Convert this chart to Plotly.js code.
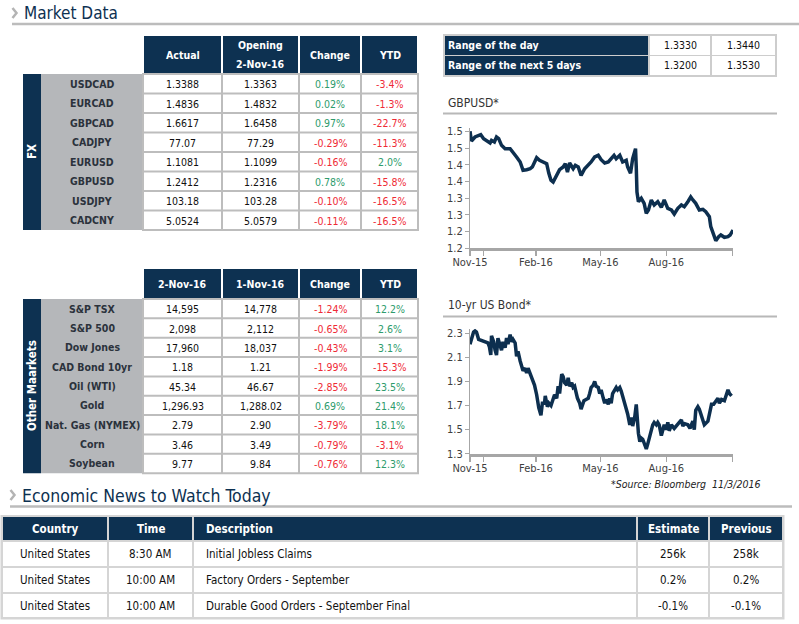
<!DOCTYPE html>
<html><head><meta charset="utf-8">
<script src="https://cdn.plot.ly/plotly-3.0.1.min.js"></script>
<style>html,body{margin:0;padding:0;background:#fff;}#chart{width:799px;height:624px;}</style>
</head><body><div id="chart"></div>
<script>
// ---------------- DATA ----------------
const fxPairs   = ['USDCAD','EURCAD','GBPCAD','CADJPY','EURUSD','GBPUSD','USDJPY','CADCNY'];
const fxActual  = ['1.3388','1.4836','1.6617','77.07','1.1081','1.2412','103.18','5.0524'];
const fxOpening = ['1.3363','1.4832','1.6458','77.29','1.1099','1.2316','103.28','5.0579'];
const fxChange  = [0.19, 0.02, 0.97, -0.29, -0.16, 0.78, -0.10, -0.11];
const fxYTD     = [-3.4, -1.3, -22.7, -11.3, 2.0, -15.8, -16.5, -16.5];
const fxHeaders = ['Actual','Opening<br>2-Nov-16','Change','YTD'];
const fxSide    = 'FX';

const mktNames   = ['S&P TSX','S&P 500','Dow Jones','CAD Bond 10yr','Oil (WTI)','Gold','Nat. Gas (NYMEX)','Corn','Soybean'];
const mktNov2    = ['14,595','2,098','17,960','1.18','45.34','1,296.93','2.79','3.46','9.77'];
const mktNov1    = ['14,778','2,112','18,037','1.21','46.67','1,288.02','2.90','3.49','9.84'];
const mktChange  = [-1.24, -0.65, -0.43, -1.99, -2.85, 0.69, -3.79, -0.79, -0.76];
const mktYTD     = [12.2, 2.6, 3.1, -15.3, 23.5, 21.4, 18.1, -3.1, 12.3];
const mktHeaders = ['2-Nov-16','1-Nov-16','Change','YTD'];
const mktSide    = 'Other Maarkets';

const rangeLabels = ['Range of the day','Range of the next 5 days'];
const rangeLow    = ['1.3330','1.3200'];
const rangeHigh   = ['1.3440','1.3530'];

const newsHeaders  = ['Country','Time','Description','Estimate','Previous'];
const newsCountry  = ['United States','United States','United States'];
const newsTime     = ['8:30 AM','10:00 AM','10:00 AM'];
const newsDesc     = ['Initial Jobless Claims','Factory Orders - September','Durable Good Orders - September Final'];
const newsEstimate = ['256k','0.2%','-0.1%'];
const newsPrevious = ['258k','0.2%','-0.1%'];

// GBPUSD: days after 1-Nov-15, and value
const gbpDay = [0,2,7,12,15,19,23,28,30,34,37,40,44,49,56,60,65,70,74,79,84,87,90,93,97,102,107,110,113,116,
  121,125,130,133,136,139,144,147,151,155,160,165,169,174,179,183,188,193,197,201,204,209,213,218,220,224,227,231,232,233,
  235,239,243,246,249,253,257,262,267,271,276,281,285,290,295,299,304,308,311,315,320,325,329,334,336,340,343,347,350,355,
  360,363,367];
const gbpValue = [1.550,1.521,1.533,1.538,1.540,1.528,1.521,1.515,1.523,1.518,1.533,1.528,1.508,1.498,1.498,1.488,1.473,1.458,1.433,1.435,
  1.438,1.443,1.458,1.471,1.463,1.458,1.453,1.424,1.403,1.398,1.418,1.435,1.443,1.453,1.428,1.455,1.438,1.448,1.443,1.418,
  1.438,1.448,1.458,1.473,1.478,1.465,1.455,1.458,1.468,1.478,1.468,1.478,1.458,1.463,1.443,1.424,1.468,1.498,1.443,1.368,
  1.339,1.349,1.334,1.304,1.314,1.344,1.329,1.339,1.322,1.344,1.319,1.314,1.302,1.319,1.329,1.324,1.339,1.353,1.344,1.334,
  1.314,1.316,1.309,1.294,1.264,1.239,1.222,1.234,1.239,1.232,1.234,1.239,1.254];
const gbpTickVals = [1.20,1.25,1.30,1.35,1.40,1.45,1.50,1.55];
const gbpTickText = ['1.2','1.2','1.3','1.3','1.4','1.4','1.5','1.5'];

// 10-yr US Bond: days after 1-Nov-15, and yield
const bondDay = [0,2,5,7,9,12,16,21,25,27,29,30,33,35,37,39,42,44,46,49,51,53,56,58,60,63,65,67,70,72,
  74,77,79,81,84,87,90,93,96,99,101,104,105,108,110,113,116,118,121,123,125,128,130,132,135,137,139,142,144,146,
  150,153,155,159,162,165,167,169,172,174,176,179,181,183,186,188,190,193,195,197,199,202,204,206,209,211,213,216,218,220,
  223,225,227,230,232,233,235,237,239,241,244,246,248,250,253,255,257,260,262,264,267,269,271,274,276,278,281,285,290,295,
  297,299,304,307,311,313,315,318,320,322,325,327,332,335,337,340,343,346,348,351,355,357,360,362,365];
const bondValue = [2.21,2.26,2.31,2.32,2.31,2.25,2.24,2.23,2.22,2.19,2.12,2.28,2.23,2.16,2.12,2.26,2.19,2.16,2.23,2.18,
  2.26,2.21,2.29,2.23,2.25,2.22,2.11,2.15,2.07,2.03,1.99,2.01,1.97,2.01,1.96,1.93,1.87,1.79,1.68,1.62,
  1.72,1.72,1.78,1.69,1.72,1.70,1.76,1.79,1.76,1.86,1.80,1.96,1.94,1.89,1.87,1.93,1.86,1.89,1.85,1.86,
  1.76,1.72,1.67,1.74,1.75,1.76,1.80,1.85,1.87,1.90,1.86,1.85,1.80,1.83,1.76,1.72,1.75,1.71,1.76,1.72,
  1.80,1.83,1.85,1.83,1.85,1.82,1.78,1.71,1.66,1.63,1.54,1.60,1.53,1.61,1.71,1.60,1.47,1.40,1.43,1.42,
  1.36,1.34,1.38,1.43,1.50,1.54,1.56,1.54,1.56,1.54,1.45,1.50,1.54,1.50,1.56,1.49,1.54,1.51,1.54,1.58,
  1.53,1.55,1.54,1.51,1.57,1.50,1.66,1.69,1.67,1.63,1.57,1.54,1.57,1.66,1.71,1.71,1.74,1.76,1.72,1.75,
  1.74,1.78,1.83,1.80,1.78];
const bondTickVals = [1.3,1.5,1.7,1.9,2.1,2.3];
const bondTickText = ['1.3','1.5','1.7','1.9','2.1','2.3'];

const dateTickVals = ['2015-11-01','2015-11-20','2016-02-01','2016-05-01','2016-08-01','2016-11-01'];
const dateTickText = ['Nov-15','','Feb-16','May-16','Aug-16',''];

// ---------------- DRAWING ----------------
const W = 799, H = 624;
const F = '"DejaVu Sans Condensed", "DejaVu Sans", sans-serif';
const NAVY = '#0d3151', GREYCOL = '#b5b7ba', LABEL = '#2b323c';
const GREEN = '#2e9b6c', RED = '#ef2a35';
const X = p => p / W, Y = p => 1 - p / H;
const shapes = [], annotations = [];

function rect(x0, y0, x1, y1, fill) {
  shapes.push({type:'rect', xref:'paper', yref:'paper', x0:X(x0), x1:X(x1), y0:Y(y1), y1:Y(y0),
    fillcolor:fill, line:{width:0}, layer:'below'});
}
function hline(x0, x1, y, color, w) {
  shapes.push({type:'line', xref:'paper', yref:'paper', x0:X(x0), x1:X(x1), y0:Y(y), y1:Y(y),
    line:{color:color, width:w}, layer:'below'});
}
function chevron(x, y) {
  shapes.push({type:'path', xref:'paper', yref:'paper',
    path:`M ${X(x)} ${Y(y-5)} L ${X(x+4)} ${Y(y)} L ${X(x)} ${Y(y+5)}`,
    line:{color:'#b4b4b4', width:2.5}, layer:'below'});
}
function text(x, y, t, o) {
  o = o || {};
  annotations.push({xref:'paper', yref:'paper', x:X(x), y:Y(y), text:t, showarrow:false,
    xanchor:o.anchor || 'center', yanchor:'middle', textangle:o.angle || 0,
    font:{family:F, size:o.size || 11, color:o.color || '#111', weight:o.bold ? 'bold' : 'normal',
          style:o.italic ? 'italic' : 'normal'}});
}
const pct = (v, dp) => v.toFixed(dp) + '%';
const signColor = v => v < 0 ? RED : GREEN;

function marketTable(top, headH, rowH, cols, labels, columns, headers, side) {
  const bodyTop = top + headH;
  const bottom = bodyTop + labels.length * rowH;
  headers.forEach((h, j) => {
    rect(cols[j] + 1, top, cols[j + 1] - 1, bodyTop - 1, NAVY);
    const lines = h.split('<br>');
    const cy = (top + bodyTop - 1) / 2;
    lines.forEach((ln, k) => text((cols[j] + cols[j + 1]) / 2, cy + (k - (lines.length - 1) / 2) * 19.5, ln,
      {color:'#fff', bold:true, size:10.5}));
  });
  rect(23, bodyTop, 41, bottom, NAVY);
  text(32, (bodyTop + bottom) / 2, side, {color:'#fff', bold:true, angle:-90, size:11.5});
  rect(41, bodyTop, cols[0], bottom, GREYCOL);
  rect(cols[0] - 1, bodyTop - 1, cols[cols.length - 1] + 1, bottom + 1, '#bdbdbd');
  labels.forEach((lab, i) => {
    const y0 = bodyTop + i * rowH, y1 = y0 + rowH, cy = (y0 + y1) / 2;
    text(92, cy, lab, {color:LABEL, bold:true, size:10.5});
    columns.forEach((c, j) => {
      rect(cols[j] + 1, y0 + 1, cols[j + 1] - 1, y1 - 1, '#ffffff');
      text((cols[j] + cols[j + 1]) / 2, cy + 0.5, c.values[i], {color:c.colors ? c.colors[i] : '#111', size:10.5});
    });
  });
}

// headings
chevron(12.5, 13);
text(22, 13, 'Market Data', {color:NAVY, size:17, anchor:'left'});
hline(12, 799, 24, '#bcbcbc', 2.5);

chevron(10.5, 495);
text(20, 496, 'Economic News to Watch Today', {color:NAVY, size:17.5, anchor:'left'});
hline(10, 792, 506.5, '#bcbcbc', 2.5);

// FX table
const tcols = [143, 222, 299, 361, 418];
marketTable(36, 38, 19.5, tcols, fxPairs, [
  {values:fxActual}, {values:fxOpening},
  {values:fxChange.map(v => pct(v, 2)), colors:fxChange.map(signColor)},
  {values:fxYTD.map(v => pct(v, 1)), colors:fxYTD.map(signColor)}
], fxHeaders, fxSide);

// Other markets
marketTable(269, 30, 19.35, tcols, mktNames, [
  {values:mktNov2}, {values:mktNov1},
  {values:mktChange.map(v => pct(v, 2)), colors:mktChange.map(signColor)},
  {values:mktYTD.map(v => pct(v, 1)), colors:mktYTD.map(signColor)}
], mktHeaders, mktSide);

// Range table
rect(443, 34, 777, 77, '#cdcdcd');
rangeLabels.forEach((lab, i) => {
  const y0 = 36 + i * 20, y1 = y0 + 19, cy = (y0 + y1) / 2;
  rect(445, y0, 648, y1, NAVY);
  rect(650, y0, 710, y1, '#ffffff');
  rect(712, y0, 775, y1, '#ffffff');
  text(446, cy, lab, {color:'#fff', bold:true, anchor:'left', size:10.5});
  text(680, cy, rangeLow[i], {size:10.5});
  text(743.5, cy, rangeHigh[i], {size:10.5});
});

// chart titles
text(446, 103, 'GBPUSD*', {color:'#333', size:12, anchor:'left'});
hline(443, 777, 113.5, '#b8b8b8', 2);
text(446, 305, '10-yr US Bond*', {color:'#333', size:12, anchor:'left'});
hline(443, 777, 316.5, '#b8b8b8', 2);
text(763, 483.5, '*Source: Bloomberg\u00a0\u00a011/3/2016', {color:'#222', size:10.5, anchor:'right', italic:true});

// Economic news table
const ncols = [2, 108, 193, 637, 709, 783];
const ntops = [541, 567, 593], nbots = [567, 593, 618];
rect(0.5, 515, 784.5, 619.5, '#d5d5d5');
const newsCols = [newsCountry, newsTime, newsDesc, newsEstimate, newsPrevious];
newsHeaders.forEach((h, j) => {
  rect(ncols[j] + 1, 517, ncols[j + 1] - 1, 540, NAVY);
  const left = j === 2;
  text(left ? 204 : (ncols[j] + ncols[j + 1]) / 2, 529, h, {color:'#fff', bold:true, size:11.5, anchor:left ? 'left' : 'center'});
});
for (let i = 0; i < newsCountry.length; i++) {
  const top = ntops[i], bot = nbots[i];
  newsCols.forEach((col, j) => {
    rect(ncols[j] + 1, top + 1, ncols[j + 1] - 1, bot - 1, '#ffffff');
    const left = j === 2;
    text(left ? 204 : (ncols[j] + ncols[j + 1]) / 2, (top + bot) / 2, col[i], {size:11.5, anchor:left ? 'left' : 'center'});
  });
}

// line charts
const base = Date.UTC(2015, 10, 1);
const toDate = d => new Date(base + d * 864e5).toISOString().slice(0, 10);

const traces = [
  {x:gbpDay.map(toDate), y:gbpValue, type:'scatter', mode:'lines', line:{color:'#0d2f4f', width:3.5},
   xaxis:'x', yaxis:'y', hoverinfo:'skip'},
  {x:bondDay.map(toDate), y:bondValue, type:'scatter', mode:'lines', line:{color:'#0d2f4f', width:3.5},
   xaxis:'x2', yaxis:'y2', hoverinfo:'skip'}
];

const tickFont = {family:F, size:11, color:'#404040'};
function xAxis(anchor) {
  return {domain:[X(470), X(733)], anchor:anchor, type:'date', range:['2015-11-01', '2016-11-02'],
    tickmode:'array', tickvals:dateTickVals, ticktext:dateTickText, ticks:'outside', ticklen:5, tickwidth:1.5,
    tickcolor:'#a6a6a6', showline:true, linecolor:'#a6a6a6', linewidth:3, showgrid:false, zeroline:false,
    tickfont:tickFont, ticklabelstandoff:-3, fixedrange:true};
}
function yAxis(anchor, dom, range, tv, tt) {
  return {domain:dom, anchor:anchor, range:range, tickmode:'array', tickvals:tv, ticktext:tt,
    ticks:'outside', ticklen:4, tickcolor:'#a6a6a6', showline:true, linecolor:'#a6a6a6', linewidth:1,
    showgrid:false, zeroline:false, tickfont:tickFont, fixedrange:true};
}

const layout = {
  width:W, height:H, margin:{l:0, r:0, t:0, b:0}, paper_bgcolor:'#ffffff', plot_bgcolor:'rgba(0,0,0,0)',
  showlegend:false, hovermode:false,
  xaxis:xAxis('y'),
  yaxis:yAxis('x', [Y(248), Y(128)], [1.2, 1.56], gbpTickVals, gbpTickText),
  xaxis2:xAxis('y2'),
  yaxis2:yAxis('x2', [Y(453.7), Y(328.5)], [1.3, 2.34], bondTickVals, bondTickText),
  shapes:shapes, annotations:annotations
};

Plotly.newPlot('chart', traces, layout, {staticPlot:true, displayModeBar:false});
</script>
</body></html>
